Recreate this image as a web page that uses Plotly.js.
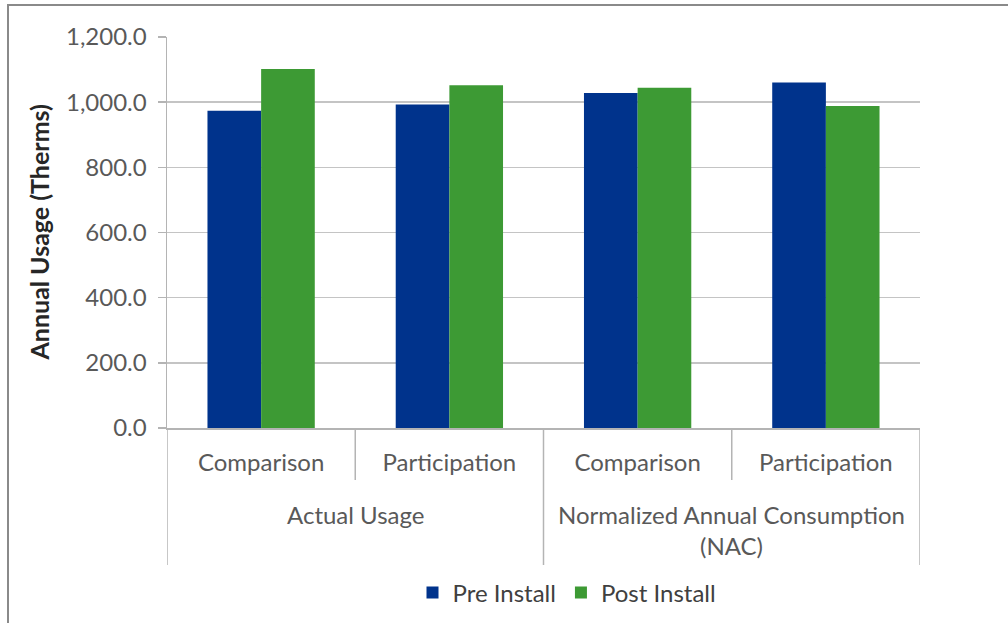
<!DOCTYPE html>
<html>
<head>
<meta charset="utf-8">
<script src="https://cdn.plot.ly/plotly-3.0.1.min.js"></script>
<style>
  html, body { margin: 0; padding: 0; background: #ffffff; }
  #frame { position: absolute; left: 0; top: 0; width: 1008px; height: 623px; overflow: hidden; }
  #edge { position: absolute; left: 7px; top: 4px; width: 1010px; height: 630px;
          border-left: 2px solid #8a8a8a; border-top: 2px solid #8a8a8a; pointer-events: none; }
  #chart { position: absolute; left: 0; top: 0; width: 1008px; height: 623px; }
</style>
</head>
<body>
<div id="frame">
  <div id="chart"></div>
  <div id="edge"></div>
</div>
<script>
// Sub-categories along the x axis and the group each one belongs to
const subLabels = ['Comparison', 'Participation', 'Comparison', 'Participation'];
const groupOf = [0, 0, 1, 1];
const groupLabels = ['Actual Usage', 'Normalized Annual Consumption<br>(NAC)'];

// Annual usage in therms
const preInstall = [974, 993, 1028, 1060];
const postInstall = [1102, 1052, 1044, 988];

const seriesNames = ['Pre Install', 'Post Install'];
const seriesColors = ['#00338c', '#3d9a34'];

const W = 1008, H = 623;
const M = { l: 167, r: 88, t: 37, b: 195 };
const plotH = H - M.t - M.b;
// convert a pixel offset below the plot bottom into paper units
const below = px => -px / plotH;

const xs = subLabels.map((_, i) => i);
const font = 'Lato, "Open Sans", sans-serif';
const lineGray = '#b4b4b4';

const traces = [preInstall, postInstall].map((vals, k) => ({
  type: 'bar',
  name: seriesNames[k],
  x: xs,
  y: vals,
  marker: { color: seriesColors[k], line: { width: 0 } },
  hoverinfo: 'x+y'
}));

// Divider lines in the category label area
const shapes = [];
const nCat = xs.length;
for (let b = 0; b <= nCat; b++) {
  const xb = b - 0.5;
  const isGroupEdge = b === 0 || b === nCat || groupOf[b] !== groupOf[b - 1];
  shapes.push({
    type: 'line', xref: 'x', yref: 'paper',
    x0: xb, x1: xb, y0: 0, y1: isGroupEdge ? below(137) : below(52),
    line: { color: lineGray, width: 1.5 }
  });
}

// Group labels centred under their members
const annotations = groupLabels.map((txt, g) => {
  const members = xs.filter(i => groupOf[i] === g);
  const cx = members.reduce((a, b) => a + b, 0) / members.length;
  return {
    xref: 'x', yref: 'paper', x: cx, y: below(70),
    yanchor: 'top', xanchor: 'center', showarrow: false, align: 'center',
    text: txt, font: { family: font, size: 24, color: '#595959' }
  };
});

// Y axis title
annotations.push({
  xref: 'paper', yref: 'paper', x: -(M.l - 38) / (W - M.l - M.r), y: 0.5,
  xanchor: 'center', yanchor: 'middle', textangle: -90, showarrow: false,
  text: '<b>Annual Usage (Therms)</b>',
  font: { family: font, size: 25, color: '#262626' }
});

const layout = {
  width: W, height: H,
  margin: M,
  paper_bgcolor: 'rgba(0,0,0,0)',
  plot_bgcolor: '#ffffff',
  barmode: 'group',
  bargap: 0.43,
  bargroupgap: 0,
  showlegend: true,
  legend: {
    orientation: 'h',
    xref: 'container', x: 567 / W, xanchor: 'center',
    yref: 'container', y: (H - 593) / H, yanchor: 'middle',
    font: { family: font, size: 24, color: '#404040' },
    itemwidth: 30, tracegroupgap: 0, bgcolor: 'rgba(0,0,0,0)'
  },
  xaxis: {
    range: [-0.5, nCat - 0.5],
    tickmode: 'array', tickvals: xs, ticktext: subLabels,
    ticks: '', showgrid: false, zeroline: false,
    showline: true, linecolor: lineGray, linewidth: 1.5,
    ticklabelstandoff: 13,
    tickfont: { family: font, size: 24, color: '#595959' },
    automargin: false,
    fixedrange: true
  },
  yaxis: {
    range: [0, 1200], dtick: 200, tick0: 0,
    tickformat: ',.1f',
    ticks: 'outside', ticklen: 8, tickcolor: lineGray, tickwidth: 1.5,
    showline: true, linecolor: lineGray, linewidth: 1.5,
    showgrid: true, gridcolor: '#c4c4c4', gridwidth: 1.5,
    zeroline: false,
    ticklabelstandoff: 6,
    tickfont: { family: font, size: 24, color: '#595959' },
    automargin: false,
    fixedrange: true
  },
  shapes: shapes,
  annotations: annotations
};

Plotly.newPlot('chart', traces, layout, { displayModeBar: false, staticPlot: true });
</script>
</body>
</html>
